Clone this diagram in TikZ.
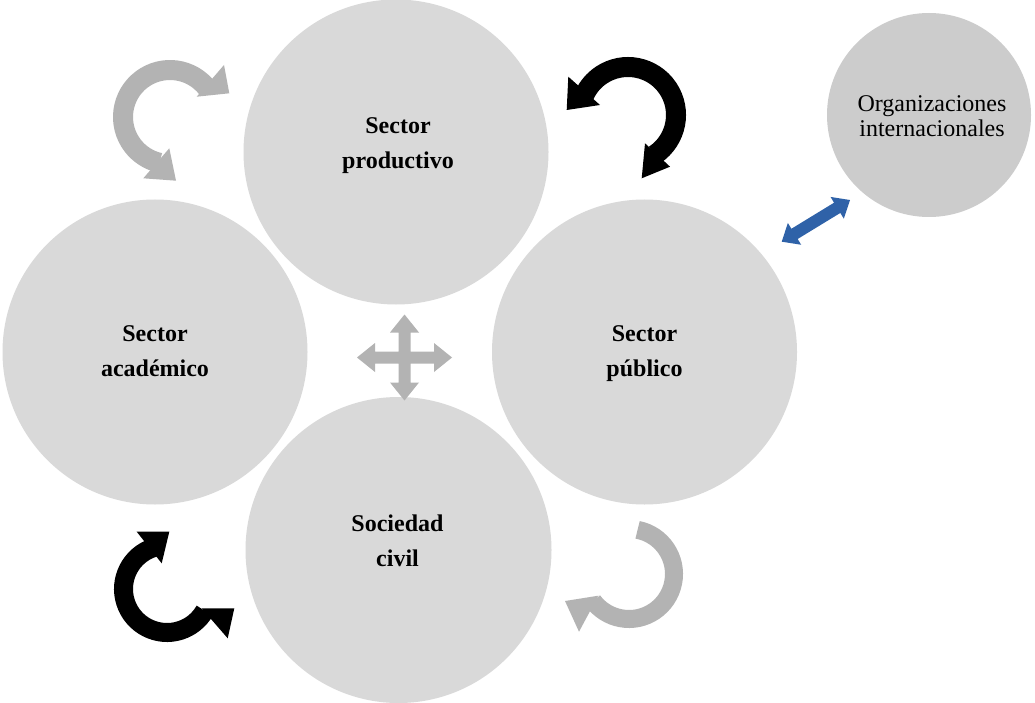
\documentclass[tikz,border=0pt]{standalone}
\usepackage{fontspec}
\setmainfont{Liberation Serif}
\definecolor{circgrey}{HTML}{D9D9D9}
\definecolor{orggrey}{HTML}{CCCCCC}
\definecolor{arrgrey}{HTML}{B3B3B3}
\definecolor{arrblue}{HTML}{2F62A8}
\begin{document}
\begin{tikzpicture}[x=1pt,y=1pt,
  bigcirc/.style={circle, fill=circgrey, draw=none, inner sep=0pt, minimum size=305pt},
  orgcirc/.style={circle, fill=orggrey, draw=none, inner sep=0pt, minimum size=204pt},
  lab/.style={font=\bfseries\fontsize{24}{28}\selectfont, anchor=base, inner sep=0pt, text=black},
  orglab/.style={font=\fontsize{24}{28}\selectfont, anchor=base, inner sep=0pt, text=black},
  bandgrey/.style={draw=arrgrey, line width=20pt},
  bandblack/.style={draw=black, line width=20pt}]
\useasboundingbox (0,0) rectangle (1035,-703);
\fill[white] (0,0) rectangle (1035,-703);

% circles
\node[bigcirc] (prod) at (396,-152) {};
\node[bigcirc] (acad) at (155,-352) {};
\node[bigcirc] (pub) at (644.5,-352) {};
\node[bigcirc, minimum size=306pt] (soc) at (398.5,-550) {};
\node[orgcirc] (org) at (929,-115) {};

% labels
\node[lab] (prodA) at (398,-133.3) {Sector};
\node[lab] (prodB) at (398,-168.3) {productivo};
\node[lab] (acadA) at (155,-341.7) {Sector};
\node[lab] (acadB) at (155,-376.7) {académico};
\node[lab] (pubA) at (644.5,-341.7) {Sector};
\node[lab] (pubB) at (644.5,-376.7) {público};
\node[lab] (socA) at (397.5,-531.7) {Sociedad};
\node[lab] (socB) at (397.5,-566.7) {civil};
\node[orglab] (orgA) at (932,-111.5) {Organizaciones};
\node[orglab] (orgB) at (932,-136.5) {internacionales};

% arrow 1 (grey, top-left, double)
\draw[bandgrey] (170,-117) ++(37:47pt) arc[start angle=37, end angle=257, radius=47pt];
\fill[arrgrey] (196.7,-96.7) -- (224,-65) -- (229.3,-93.3) -- cycle;
\fill[arrgrey] (143.3,-178.3) -- (169.3,-148.3) -- (176,-180.7) -- cycle;

% arrow 2 (black, top-right, double)
\draw[bandblack] (628,-115) ++(-56:48pt) arc[start angle=-56, end angle=155, radius=48pt];
\fill[black] (568.3,-76.7) -- (600,-105) -- (566.7,-110) -- cycle;
\fill[black] (645,-143.3) -- (670,-166.7) -- (641.7,-178.3) -- cycle;

% arrow 3 (black, bottom-left, double)
\draw[bandblack, line width=19pt] (167,-589) ++(108:43.5pt) arc[start angle=108, end angle=330, radius=43.5pt];
\fill[black] (136.7,-531.7) -- (161.7,-563.3) -- (169.3,-531.7) -- cycle;
\fill[black] (201.7,-608.3) -- (227.7,-638.3) -- (234.3,-608.3) -- cycle;

% arrow 4 (grey, bottom-right, single)
\draw[bandgrey, line width=18pt] (629,-574) ++(79:45pt) arc[start angle=79, end angle=-143, radius=45pt];
\fill[arrgrey] (565,-601) -- (598.3,-595.7) -- (579,-631.7) -- cycle;

% four-way arrow
\begin{scope}[shift={(404.5,-357.5)}]
\fill[arrgrey] (0,43) -- (14.5,25) -- (6,25) -- (6,6) -- (29.5,6) -- (29.5,14.5) -- (47.5,0)
  -- (29.5,-14.5) -- (29.5,-6) -- (6,-6) -- (6,-25) -- (14.5,-25) -- (0,-43)
  -- (-14.5,-25) -- (-6,-25) -- (-6,-6) -- (-29.5,-6) -- (-29.5,-14.5) -- (-47.5,0)
  -- (-29.5,14.5) -- (-29.5,6) -- (-6,6) -- (-6,25) -- (-14.5,25) -- cycle;
\end{scope}

% blue double arrow
\begin{scope}[shift={(815.85,-220.85)}, rotate=31.4]
\fill[arrblue] (-40,0) -- (-25,12.75) -- (-25,6) -- (25,6) -- (25,12.75) -- (40,0)
  -- (25,-12.75) -- (25,-6) -- (-25,-6) -- (-25,-12.75) -- cycle;
\end{scope}
\end{tikzpicture}
\end{document}
